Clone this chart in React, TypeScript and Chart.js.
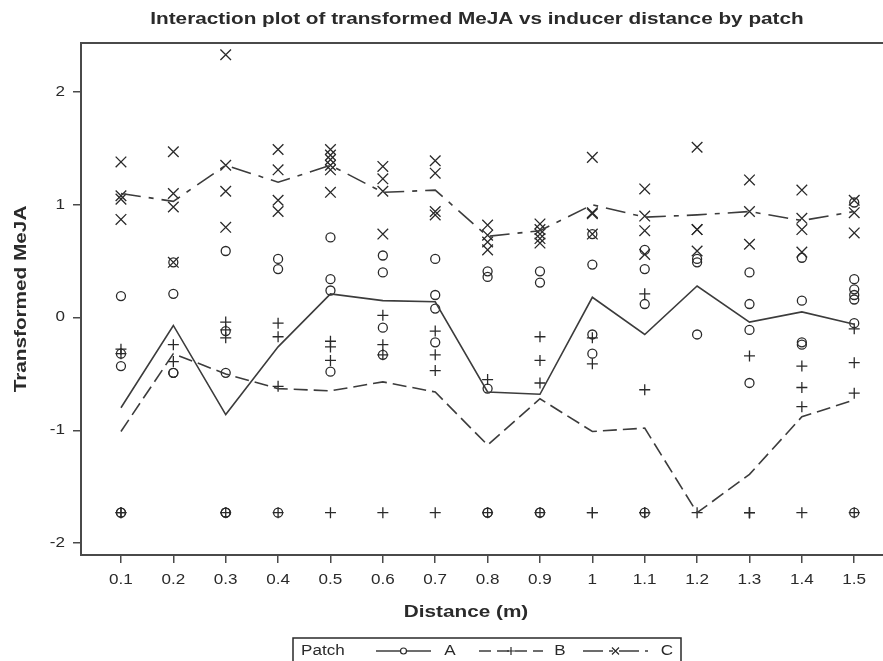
import React, { useEffect, useRef } from "react";
import { Chart, registerables } from "chart.js";

Chart.register(...registerables);

// Inducer distances (m) and their tick labels
const distances = [0.1, 0.2, 0.3, 0.4, 0.5, 0.6, 0.7, 0.8, 0.9, 1.0, 1.1, 1.2, 1.3, 1.4, 1.5];
const distanceLabels = ["0.1", "0.2", "0.3", "0.4", "0.5", "0.6", "0.7", "0.8", "0.9", "1", "1.1", "1.2", "1.3", "1.4", "1.5"];
const yTickValues = [-2, -1, 0, 1, 2];
const yTickLabels = ["-2", "-1", "0", "1", "2"];

// Mean transformed MeJA per distance, by patch
const patchAMeans = [-0.80, -0.07, -0.86, -0.26, 0.21, 0.15, 0.14, -0.66, -0.68, 0.18, -0.15, 0.28, -0.04, 0.05, -0.06];
const patchBMeans = [-1.01, -0.32, -0.50, -0.63, -0.65, -0.57, -0.66, -1.13, -0.72, -1.01, -0.98, -1.73, -1.39, -0.88, -0.73];
const patchCMeans = [1.10, 1.03, 1.35, 1.20, 1.35, 1.11, 1.13, 0.72, 0.77, 1.00, 0.89, 0.91, 0.94, 0.86, 0.94];

// Individual observations, one list per distance
const patchAObs = [
  [0.19, -0.32, -0.43, -1.73, -1.73],
  [0.49, 0.21, -0.49, -0.49],
  [0.59, -0.12, -0.49, -1.73, -1.73, -1.73],
  [0.52, 0.43, -1.73],
  [0.71, 0.34, 0.24, -0.48],
  [0.55, 0.40, -0.09, -0.33],
  [0.52, 0.20, 0.08, -0.22],
  [0.41, 0.36, -0.63, -1.73, -1.73],
  [0.41, 0.31, -1.73, -1.73],
  [0.74, 0.47, -0.15, -0.32],
  [0.60, 0.43, 0.12, -1.73],
  [0.52, 0.49, -0.15],
  [0.40, 0.12, -0.11, -0.58],
  [0.53, 0.15, -0.22, -0.24],
  [1.02, 0.34, 0.25, 0.20, 0.16, -0.05, -1.73],
];
const patchBObs = [
  [-0.28, -0.32, -1.73, -1.73],
  [-0.24, -0.39],
  [-0.04, -0.11, -0.18, -1.73],
  [-0.05, -0.17, -0.61, -1.73],
  [-0.21, -0.26, -0.38, -1.73],
  [0.02, -0.24, -0.33, -1.73],
  [-0.12, -0.33, -0.47, -1.73],
  [-0.55, -1.73],
  [-0.17, -0.38, -0.58, -1.73],
  [-0.18, -0.41, -1.73, -1.73],
  [0.21, -0.64, -1.73, -1.73],
  [-1.73],
  [-0.34, -1.73, -1.73, -1.73],
  [-0.43, -0.62, -0.79, -1.73],
  [-0.10, -0.40, -0.67, -1.73],
];
const patchCObs = [
  [1.38, 1.08, 1.05, 0.87],
  [1.47, 1.10, 0.98, 0.49],
  [2.33, 1.35, 1.12, 0.80],
  [1.49, 1.31, 1.04, 0.94],
  [1.49, 1.44, 1.40, 1.35, 1.31, 1.11],
  [1.34, 1.23, 1.12, 0.74],
  [1.39, 1.28, 0.94, 0.91],
  [0.82, 0.73, 0.67, 0.60],
  [0.83, 0.78, 0.74, 0.70, 0.66],
  [1.42, 0.93, 0.92, 0.74],
  [1.14, 0.90, 0.77, 0.56],
  [1.51, 0.78, 0.78, 0.59],
  [1.22, 0.94, 0.65],
  [1.13, 0.88, 0.78, 0.58],
  [1.04, 0.93, 0.75],
];

const INK = "#2a2a2a";
const LINE_INK = "#3c3c3c";
const FRAME = "#4a4a4a";
const FONT = "'Liberation Sans', Arial, Helvetica, sans-serif";
const STRETCH = 1.22;
const DASH_B = [14, 6];
const DASH_C = [20, 8, 5, 8];

const toPoints = (obs: number[][]) =>
  obs.flatMap((vals, i) => vals.map((v) => ({ x: distances[i], y: v })));
const toLine = (means: number[]) => means.map((m, i) => ({ x: distances[i], y: m }));

function wideText(
  ctx: CanvasRenderingContext2D,
  text: string,
  x: number,
  y: number,
  font: string,
  align: CanvasTextAlign,
  angle = 0
) {
  ctx.save();
  ctx.translate(x, y);
  if (angle) ctx.rotate(angle);
  ctx.scale(STRETCH, 1);
  ctx.font = font;
  ctx.textAlign = align;
  ctx.textBaseline = "middle";
  ctx.fillStyle = INK;
  ctx.fillText(text, 0, 0);
  ctx.restore();
}

const textPlugin = {
  id: "frameAndText",
  afterDraw(chart: any) {
    const ctx: CanvasRenderingContext2D = chart.ctx;
    const area = chart.chartArea;
    const xs = chart.scales.x;
    const ys = chart.scales.y;

    // top edge of the frame
    ctx.save();
    ctx.strokeStyle = FRAME;
    ctx.lineWidth = 2;
    ctx.beginPath();
    ctx.moveTo(area.left - 1, area.top);
    ctx.lineTo(area.right, area.top);
    ctx.stroke();
    ctx.restore();

    wideText(ctx, "Interaction plot of transformed MeJA vs inducer distance by patch", 477, 19, `bold 17px ${FONT}`, "center");

    yTickValues.forEach((v, i) => {
      wideText(ctx, yTickLabels[i], area.left - 16, ys.getPixelForValue(v), `14px ${FONT}`, "right");
    });
    distances.forEach((d, i) => {
      wideText(ctx, distanceLabels[i], xs.getPixelForValue(d), 580, `14px ${FONT}`, "center");
    });

    wideText(ctx, "Distance (m)", 466, 612, `bold 17px ${FONT}`, "center");
    wideText(ctx, "Transformed MeJA", 21, (area.top + area.bottom) / 2, `bold 17px ${FONT}`, "center", -Math.PI / 2);

    // legend
    const ly = 651;
    ctx.save();
    ctx.strokeStyle = INK;
    ctx.lineWidth = 1.5;
    ctx.strokeRect(293, 638, 388, 30);
    ctx.restore();
    wideText(ctx, "Patch", 301, ly, `14px ${FONT}`, "left");

    const sample = (x0: number, x1: number, dash: number[], marker: string) => {
      ctx.save();
      ctx.strokeStyle = LINE_INK;
      ctx.lineWidth = 1.5;
      ctx.setLineDash(dash);
      ctx.beginPath();
      ctx.moveTo(x0, ly);
      ctx.lineTo(x1, ly);
      ctx.stroke();
      ctx.setLineDash([]);
      const cx = (x0 + x1) / 2;
      ctx.strokeStyle = INK;
      ctx.lineWidth = 1.2;
      ctx.beginPath();
      if (marker === "circle") {
        ctx.fillStyle = "#fff";
        ctx.arc(cx, ly, 3, 0, Math.PI * 2);
        ctx.fill();
      } else if (marker === "plus") {
        ctx.moveTo(cx - 4, ly);
        ctx.lineTo(cx + 4, ly);
        ctx.moveTo(cx, ly - 4);
        ctx.lineTo(cx, ly + 4);
      } else {
        ctx.moveTo(cx - 3.5, ly - 3.5);
        ctx.lineTo(cx + 3.5, ly + 3.5);
        ctx.moveTo(cx + 3.5, ly - 3.5);
        ctx.lineTo(cx - 3.5, ly + 3.5);
      }
      ctx.stroke();
      ctx.restore();
    };
    sample(376, 431, [], "circle");
    wideText(ctx, "A", 450, ly, `14px ${FONT}`, "center");
    sample(479, 543, [12, 6], "plus");
    wideText(ctx, "B", 560, ly, `14px ${FONT}`, "center");
    sample(583, 648, [20, 6, 4, 6], "x");
    wideText(ctx, "C", 667, ly, `14px ${FONT}`, "center");
  },
};

export default function App() {
  const canvasRef = useRef<HTMLCanvasElement | null>(null);

  useEffect(() => {
    if (!canvasRef.current) return;
    const chart = new Chart(canvasRef.current, {
      type: "scatter",
      data: {
        datasets: [
          {
            label: "A mean",
            data: toLine(patchAMeans),
            showLine: true,
            pointRadius: 0,
            borderColor: LINE_INK,
            borderWidth: 1.6,
            tension: 0,
          },
          {
            label: "B mean",
            data: toLine(patchBMeans),
            showLine: true,
            pointRadius: 0,
            borderColor: LINE_INK,
            borderWidth: 1.6,
            borderDash: DASH_B,
            tension: 0,
          },
          {
            label: "C mean",
            data: toLine(patchCMeans),
            showLine: true,
            pointRadius: 0,
            borderColor: LINE_INK,
            borderWidth: 1.6,
            borderDash: DASH_C,
            tension: 0,
          },
          {
            label: "A",
            data: toPoints(patchAObs),
            showLine: false,
            pointStyle: "circle",
            pointRadius: 4.5,
            pointBorderWidth: 1.3,
            pointBorderColor: INK,
            pointBackgroundColor: "rgba(0,0,0,0)",
          },
          {
            label: "B",
            data: toPoints(patchBObs),
            showLine: false,
            pointStyle: "cross",
            pointRadius: 5.5,
            pointBorderWidth: 1.3,
            pointBorderColor: INK,
            pointBackgroundColor: "rgba(0,0,0,0)",
          },
          {
            label: "C",
            data: toPoints(patchCObs),
            showLine: false,
            pointStyle: "crossRot",
            pointRadius: 7.5,
            pointBorderWidth: 1.3,
            pointBorderColor: INK,
            pointBackgroundColor: "rgba(0,0,0,0)",
          },
        ],
      },
      options: {
        responsive: false,
        animation: false,
        events: [],
        layout: { padding: { top: 43, right: 8, left: 0, bottom: 0 } },
        plugins: {
          legend: { display: false },
          title: { display: false },
          tooltip: { enabled: false },
        },
        scales: {
          x: {
            type: "linear",
            min: 0.0237,
            max: 1.5763,
            afterBuildTicks: (s: any) => {
              s.ticks = distances.map((v) => ({ value: v }));
            },
            afterFit: (s: any) => {
              s.height = 106;
            },
            ticks: { display: false },
            grid: { drawOnChartArea: false, drawTicks: true, tickLength: 8, color: FRAME, lineWidth: 1.5 },
            border: { display: true, color: FRAME, width: 2 },
          },
          y: {
            type: "linear",
            min: -2.105,
            max: 2.434,
            afterBuildTicks: (s: any) => {
              s.ticks = yTickValues.map((v) => ({ value: v }));
            },
            afterFit: (s: any) => {
              s.width = 81;
            },
            ticks: { display: false },
            grid: { drawOnChartArea: false, drawTicks: true, tickLength: 8, color: FRAME, lineWidth: 1.5 },
            border: { display: true, color: FRAME, width: 2 },
          },
        },
      },
      plugins: [textPlugin],
    });
    return () => chart.destroy();
  }, []);

  return (
    <div
      style={{
        position: "fixed",
        left: 0,
        top: 0,
        width: 883,
        height: 661,
        overflow: "hidden",
        background: "#fff",
      }}
    >
      <canvas ref={canvasRef} width={903} height={661} style={{ display: "block", width: 903, height: 661 }} />
    </div>
  );
}
